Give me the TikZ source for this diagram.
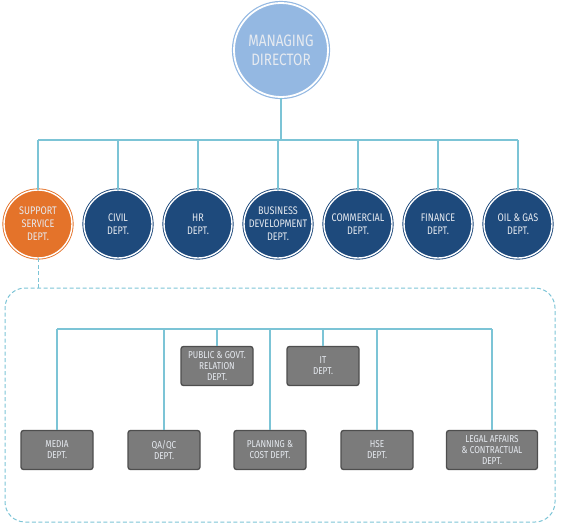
\documentclass[tikz,border=0pt]{standalone}
\usepackage{fontspec}
\newfontfamily\dinf[FakeStretch=0.82]{Fira Sans}
\definecolor{mdblue}{HTML}{94B8E2}
\definecolor{dblue}{HTML}{1E4A7C}
\definecolor{orng}{HTML}{E4732A}
\definecolor{conn}{HTML}{7CC4D6}
\definecolor{gbox}{HTML}{7B7B7B}
\definecolor{gedge}{HTML}{4E4E4E}
\definecolor{txtc}{HTML}{E6EAF0}
\begin{document}
\begin{tikzpicture}[x=1pt,y=-1pt,
  mdnode/.style={circle,minimum size=94pt,inner sep=0pt,fill=mdblue,draw=mdblue,double=white,line width=1.2pt,double distance=1.8pt,align=center,text=txtc,font=\dinf\fontsize{16.5}{19}\selectfont},
  dept/.style={circle,minimum size=68pt,inner sep=0pt,fill=dblue,draw=dblue,double=white,line width=0.9pt,double distance=1.4pt,align=center,text=txtc,font=\dinf\fontsize{11}{13}\selectfont},
  sub/.style={rectangle,rounded corners=2.5pt,minimum width=72pt,minimum height=39pt,inner sep=1pt,fill=gbox,draw=gedge,line width=1.3pt,align=center,text=txtc,font=\dinf\fontsize{10}{11}\selectfont},
  conline/.style={draw=conn,line width=1.2pt},
  dashline/.style={draw=conn,line width=1pt,dash pattern=on 4pt off 2.5pt}]
\useasboundingbox (0,0) rectangle (567,531);
\node[mdnode] (md) at (281,50) {MANAGING\\DIRECTOR};
\node[dept,fill=orng,draw=orng] (d1) at (38,224) {SUPPORT\\SERVICE\\DEPT.};
\node[dept] (d2) at (118,224) {CIVIL\\DEPT.};
\node[dept] (d3) at (198,224) {HR\\DEPT.};
\node[dept] (d4) at (278,224) {BUSINESS\\DEVELOPMENT\\DEPT.};
\node[dept] (d5) at (358,224) {COMMERCIAL\\DEPT.};
\node[dept] (d6) at (438,224) {FINANCE\\DEPT.};
\node[dept] (d7) at (518,224) {OIL \& GAS\\DEPT.};
\coordinate (bus) at (0,140);
\draw[conline] (md.south) -- (md.south |- bus);
\draw[conline] (d1.north |- bus) -- (d7.north |- bus);
\foreach \n in {d1,d2,d3,d4,d5,d6,d7}{\draw[conline] (\n.north) -- (\n.north |- bus);}
% dashed container
\node[draw=conn,line width=1pt,dash pattern=on 4pt off 2.5pt,rounded corners=20pt,minimum width=550pt,minimum height=234pt,inner sep=0pt] (box) at (280,405) {};
\draw[dashline] (d1.south) -- (d1.south |- box.north);
% sub departments
\node[sub] (s3) at (217,366) {PUBLIC \& GOVT.\\RELATION\\DEPT.};
\node[sub] (s5) at (323,366) {IT\\DEPT.};
\node[sub] (s1) at (57,450) {MEDIA\\DEPT.};
\node[sub] (s2) at (164,450) {QA/QC\\DEPT.};
\node[sub] (s4) at (270,450) {PLANNING \&\\COST DEPT.};
\node[sub] (s6) at (377,450) {HSE\\DEPT.};
\node[sub,minimum width=91pt] (s7) at (492,450) {LEGAL AFFAIRS\\\& CONTRACTUAL\\DEPT.};
\coordinate (bus2) at (0,329);
\draw[conline] (s1.north |- bus2) -- (s7.north |- bus2);
\foreach \n in {s1,s2,s3,s4,s5,s6,s7}{\draw[conline] (\n.north) -- (\n.north |- bus2);}
\end{tikzpicture}
\end{document}
